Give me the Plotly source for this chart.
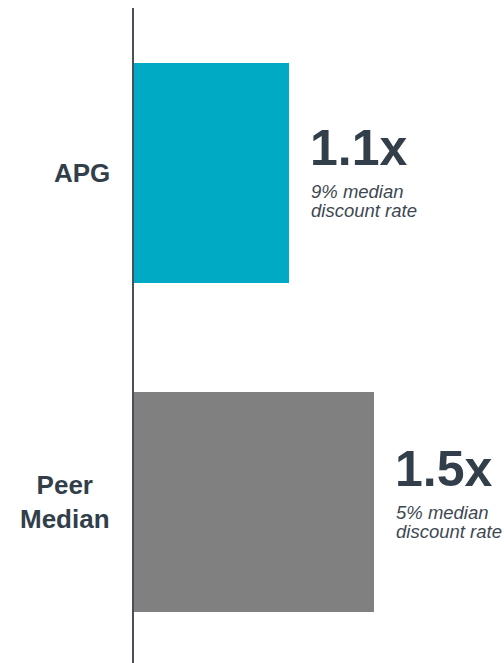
import plotly.graph_objects as go

# data
categories = ["APG", "Peer Median"]
cat_labels = ["APG", "Peer<br>Median"]
multiples = [1.1, 1.5]
value_labels = ["1.1x", "1.5x"]
sub_line1 = ["9% median", "5% median"]
sub_line2 = ["discount rate", "discount rate"]
bar_colors = ["#00AAC5", "#808080"]

dark = "#323F4B"
font_family = "Liberation Sans, Arial, sans-serif"
# the side text sits a little lower on the top bar than on the bottom one
row_adj = [-4, 4]

fig = go.Figure()
fig.add_trace(go.Bar(
    y=categories,
    x=multiples,
    orientation="h",
    marker=dict(color=bar_colors, line=dict(width=0)),
    width=0.669,
    hoverinfo="skip",
))

annotations = []
for i, cat in enumerate(categories):
    # category label left of axis
    annotations.append(dict(
        x=0, xref="paper", y=cat, yref="y",
        text="<b>" + cat_labels[i] + "</b>",
        xanchor="right", yanchor="middle", align="center",
        xshift=-22, showarrow=False,
        font=dict(family=font_family, size=26, color=dark),
    ))
    # big multiple label
    annotations.append(dict(
        x=multiples[i], y=cat, yref="y",
        text="<b>" + value_labels[i] + "</b>",
        xanchor="left", yanchor="middle",
        xshift=19, yshift=29 + row_adj[i], showarrow=False,
        font=dict(family=font_family, size=50, color=dark),
    ))
    # sub text, two lines
    for line, ys in [(sub_line1[i], -14), (sub_line2[i], -33.5)]:
        annotations.append(dict(
            x=multiples[i], y=cat, yref="y",
            text="<i>" + line + "</i>",
            xanchor="left", yanchor="middle",
            xshift=20, yshift=ys + row_adj[i], showarrow=False,
            font=dict(family=font_family, size=18.5, color="#3E4852"),
        ))

fig.update_layout(
    width=504, height=663,
    margin=dict(l=134, r=0, t=8, b=0),
    plot_bgcolor="white", paper_bgcolor="white",
    showlegend=False,
    bargap=0,
    annotations=annotations,
    xaxis=dict(range=[0.37, 2.112], showgrid=False, zeroline=False,
               showticklabels=False, showline=False, fixedrange=True),
    yaxis=dict(range=[1.489, -0.5015], showgrid=False, zeroline=False,
               showticklabels=False, showline=True, linecolor="#46515C",
               linewidth=2, ticks="", fixedrange=True),
)

# drop the default body margin and scrollbars so the figure fills the window
fix_page = "document.body.style.margin='0';document.documentElement.style.overflow='hidden';"
fig.write_html("out.html", config={"displayModeBar": False}, post_script=fix_page)
